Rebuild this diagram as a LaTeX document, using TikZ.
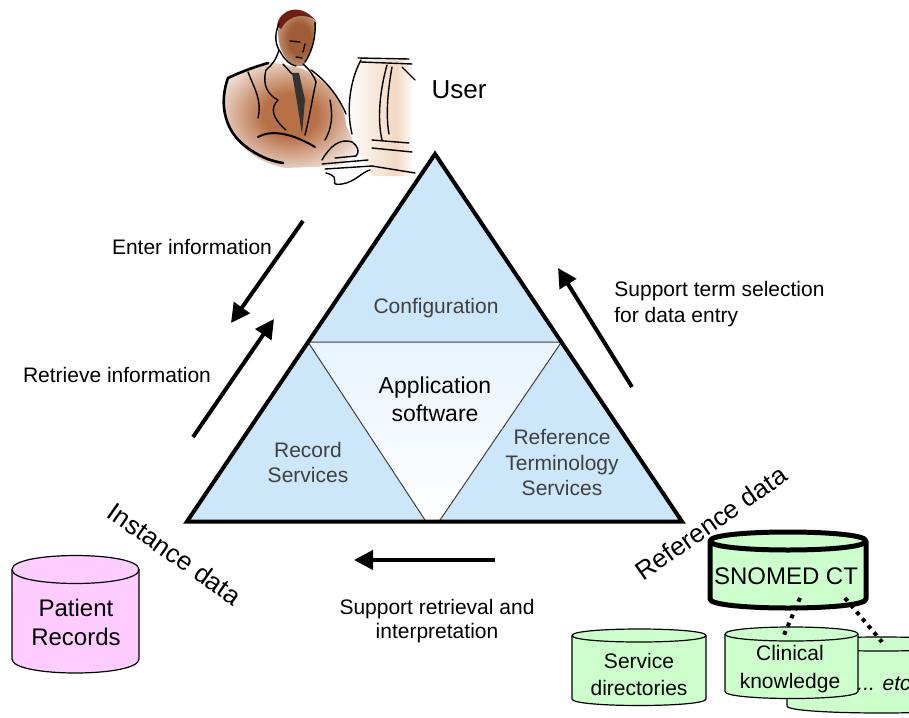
\documentclass[tikz,border=0pt]{standalone}
\usepackage{fontspec}
\setmainfont{Liberation Sans}
\usetikzlibrary{arrows.meta,positioning}

\definecolor{triblue}{RGB}{204,230,250}
\definecolor{drumgreen}{RGB}{204,255,204}
\definecolor{drumpink}{RGB}{255,204,255}
\definecolor{partgray}{RGB}{64,64,64}
\definecolor{suitbrown}{RGB}{184,112,70}
\definecolor{facebrown}{RGB}{160,92,52}
\definecolor{hairred}{RGB}{110,30,20}
\definecolor{screenbeige}{RGB}{242,216,194}

\pgfdeclareradialshading{glow}{\pgfpoint{0bp}{0bp}}{color(0bp)=(suitbrown); color(10bp)=(suitbrown); color(33bp)=(white); color(50bp)=(white)}
\pgfdeclareradialshading{faceglow}{\pgfpoint{6bp}{0bp}}{color(0bp)=(facebrown); color(14bp)=(facebrown); color(36bp)=(white!60!facebrown); color(50bp)=(white)}

% drum: style, left x, right x, top y, bottom y, y radius
\newcommand{\drum}[6]{%
  \path[#1] (#2,#4) -- (#2,#5) .. controls (#2,#5+1.333*#6) and (#3,#5+1.333*#6) .. (#3,#5)
    -- (#3,#4) .. controls (#3,#4-1.333*#6) and (#2,#4-1.333*#6) .. (#2,#4) -- cycle;
  \path[#1,fill=none] (#2,#4) .. controls (#2,#4+1.333*#6) and (#3,#4+1.333*#6) .. (#3,#4);
}

\begin{document}
\begin{tikzpicture}[x=0.5pt,y=-0.5pt,line join=round]
  \useasboundingbox (0,0) rectangle (909,717);
  \clip (0,0) rectangle (909,717);
  \tikzset{lbl/.style={inner sep=0pt,align=center,font=\fontsize{10.5}{12.5}\selectfont}}
  \tikzset{part/.style={lbl,text=partgray,font=\fontsize{10.5}{12.8}\selectfont}}
  \tikzset{big/.style={inner sep=0pt,font=\fontsize{13}{15}\selectfont}}
  \tikzset{flow/.style={line width=2pt,-{Triangle[length=9.5pt,width=9.5pt]}}}
  \tikzset{dotlink/.style={line width=2pt,dash pattern=on 2pt off 2.5pt}}
  \tikzset{ink/.style={line width=0.7pt,line cap=round}}

  % the user at his desk
  \shade[shading=glow] (228,78) .. controls (250,68) .. (270,62) -- (300,68)
    .. controls (330,80) and (345,105) .. (346,125) -- (358,152) -- (340,166) -- (285,168)
    .. controls (245,160) and (222,130) .. (224,100) -- cycle;
  \shade[shading=faceglow] (279,24) .. controls (276,40) and (280,55) .. (294,66) -- (303,66)
    .. controls (312,55) and (316,40) .. (315,21) .. controls (305,12) and (288,14) .. cycle;
  \shade[left color=white,right color=screenbeige] (356,60) -- (396,60) -- (396,176) -- (372,176)
    -- (351,136) .. controls (345,110) .. (356,60) -- cycle;
  \shade[left color=screenbeige,right color=white] (396,60) -- (412,60) -- (414,176) -- (396,176) -- cycle;
  \fill[hairred] (277,26) .. controls (279,9) and (301,2) .. (316,21)
    .. controls (308,14) and (290,12) .. (281,29) -- cycle;
  \fill[black!80] (292,73) -- (299,73) -- (305,100) -- (302,134) -- (297,102) -- cycle;
  \draw[ink] (279,24) .. controls (274,35) and (275,45) .. (281,53)
    .. controls (285,60) and (290,65) .. (296,66);
  \draw[ink] (315,22) .. controls (316,35) and (313,50) .. (305,62);
  \draw[ink] (290,41) -- (300,42) (305,44) -- (303,52) (296,57) -- (302,58);
  \draw[ink] (279,50) .. controls (276,60) and (272,65) .. (266,70)
    .. controls (262,85) and (268,95) .. (278,100) .. controls (270,108) and (272,118) .. (286,130);
  \draw[ink] (283,64) -- (292,74);
  \draw[ink] (303,64) .. controls (310,70) and (314,76) .. (316,82)
    .. controls (312,100) and (310,115) .. (305,135);
  \draw[ink,line width=1.3pt] (268,63) .. controls (258,66) and (245,70) .. (228,78)
    .. controls (220,100) and (222,128) .. (245,146) .. controls (258,156) and (270,161) .. (283,163);
  \draw[ink,line width=1pt] (258,137) .. controls (270,130) and (290,132) .. (315,147);
  \draw[ink] (248,72) .. controls (255,90) and (262,100) .. (258,118);
  \draw[ink] (311,70) .. controls (325,80) and (338,95) .. (346,114);
  \draw[ink] (330,100) .. controls (333,115) and (332,128) .. (325,140);
  \draw[ink] (322,160) .. controls (330,146) and (340,138) .. (352,142)
    .. controls (358,146) and (360,152) .. (356,156) -- (335,158);
  \draw[ink] (322,164) -- (368,160) (325,169) -- (372,166);
  \draw[ink] (326,173) .. controls (345,178) and (325,186) .. (342,184)
    .. controls (355,182) and (362,172) .. (370,170);
  \draw[ink] (358,58) -- (409,59) (361,62) -- (412,64) (402,67) -- (415,80);
  \draw[ink] (361,60) .. controls (350,80) and (346,110) .. (352,134);
  \draw[ink] (387,65) .. controls (380,90) and (377,118) .. (382,140);
  \draw[ink] (392,67) .. controls (387,95) and (386,118) .. (389,134);
  \draw[ink] (372,140) -- (409,143) (372,148) -- (412,152) (372,166) -- (415,173);
  \node[big] (user) at (459,90) {User};

  % the triangle
  \coordinate (apex) at (435,154);
  \coordinate (bl) at (187,521.5);
  \coordinate (br) at (682,521.5);
  \coordinate (ml) at (308,342);
  \coordinate (mr) at (561.5,342);
  \coordinate (vl) at (426,521.5);
  \coordinate (vr) at (439,521.5);
  \fill[triblue] (apex) -- (bl) -- (br) -- cycle;
  \shade[top color=triblue!45,bottom color=white] (ml) -- (mr) -- (vr) -- (vl) -- cycle;
  \draw[partgray,line width=0.5pt] (ml) -- (mr) (ml) -- (vl) (mr) -- (vr);
  \draw[line width=2pt,line join=miter] (apex) -- (bl) -- (br) -- cycle;

  \node[part] (config) at (436,308) {Configuration};
  \node[lbl,font=\fontsize{11.5}{14}\selectfont] (app) at (435,399) {Application\\software};
  \node[part] (record) at (308,462.5) {Record\\Services};
  \node[part] (refterm) at (562,462.5) {Reference\\Terminology\\Services};

  % information flows
  \coordinate (enterA) at (303,221);
  \coordinate (enterB) at (231,323);
  \coordinate (retrA) at (193,437);
  \coordinate (retrB) at (274,319);
  \coordinate (termA) at (632,387);
  \coordinate (termB) at (558,268);
  \coordinate (suppA) at (495,560);
  \coordinate (suppB) at (354,560);
  \draw[flow] (enterA) -- (enterB);
  \draw[flow] (retrA) -- (retrB);
  \draw[flow] (termA) -- (termB);
  \draw[flow] (suppA) -- (suppB);

  \node[lbl] (enter) at (192,247) {Enter information};
  \node[lbl] (retrieve) at (117,375) {Retrieve information};
  \node[lbl,align=left,anchor=west,font=\fontsize{10.5}{13}\selectfont] (termsel) at (614,304)
    {Support term selection\\for data entry};
  \node[lbl,font=\fontsize{10.5}{12}\selectfont] (supp) at (437,621)
    {Support retrieval and\\interpretation};

  \node[big,rotate=-35] (instance) at (175,554) {Instance data};
  \node[big,rotate=35] (reference) at (711,523) {Reference data};

  % data stores
  \drum{fill=drumpink,draw=black,line width=0.6pt}{12}{139}{569.5}{659}{14}
  \node[lbl,font=\fontsize{12}{14.2}\selectfont] (patient) at (76,622.5) {Patient\\Records};

  \drum{fill=drumgreen,draw=black,line width=0.6pt}{572}{706}{635.5}{699}{6.5}
  \node[lbl,font=\fontsize{10.5}{13.5}\selectfont] (service) at (639,674.5) {Service\\directories};

  \drum{fill=drumgreen,draw=black,line width=0.6pt}{787}{975}{644}{706}{7}
  \node[lbl,anchor=west] (etc) at (857,684) {\textit{... etc}};

  \drum{fill=drumgreen,draw=black,line width=0.6pt}{725}{858}{634}{691.5}{7}
  \node[lbl,font=\fontsize{10.5}{14}\selectfont] (clinical) at (790,669) {Clinical\\knowledge};

  \drum{fill=drumgreen,draw=black,line width=2.5pt}{710}{866}{541}{599}{9}
  \node[lbl,font=\fontsize{12}{14}\selectfont] (snomed) at (786,576) {SNOMED CT};

  \coordinate (s1) at (800,598);
  \coordinate (c1) at (784,635);
  \coordinate (s2) at (845,598);
  \coordinate (e1) at (882,642);
  \draw[dotlink] (s1) -- (c1);
  \draw[dotlink] (s2) -- (e1);
\end{tikzpicture}
\end{document}
